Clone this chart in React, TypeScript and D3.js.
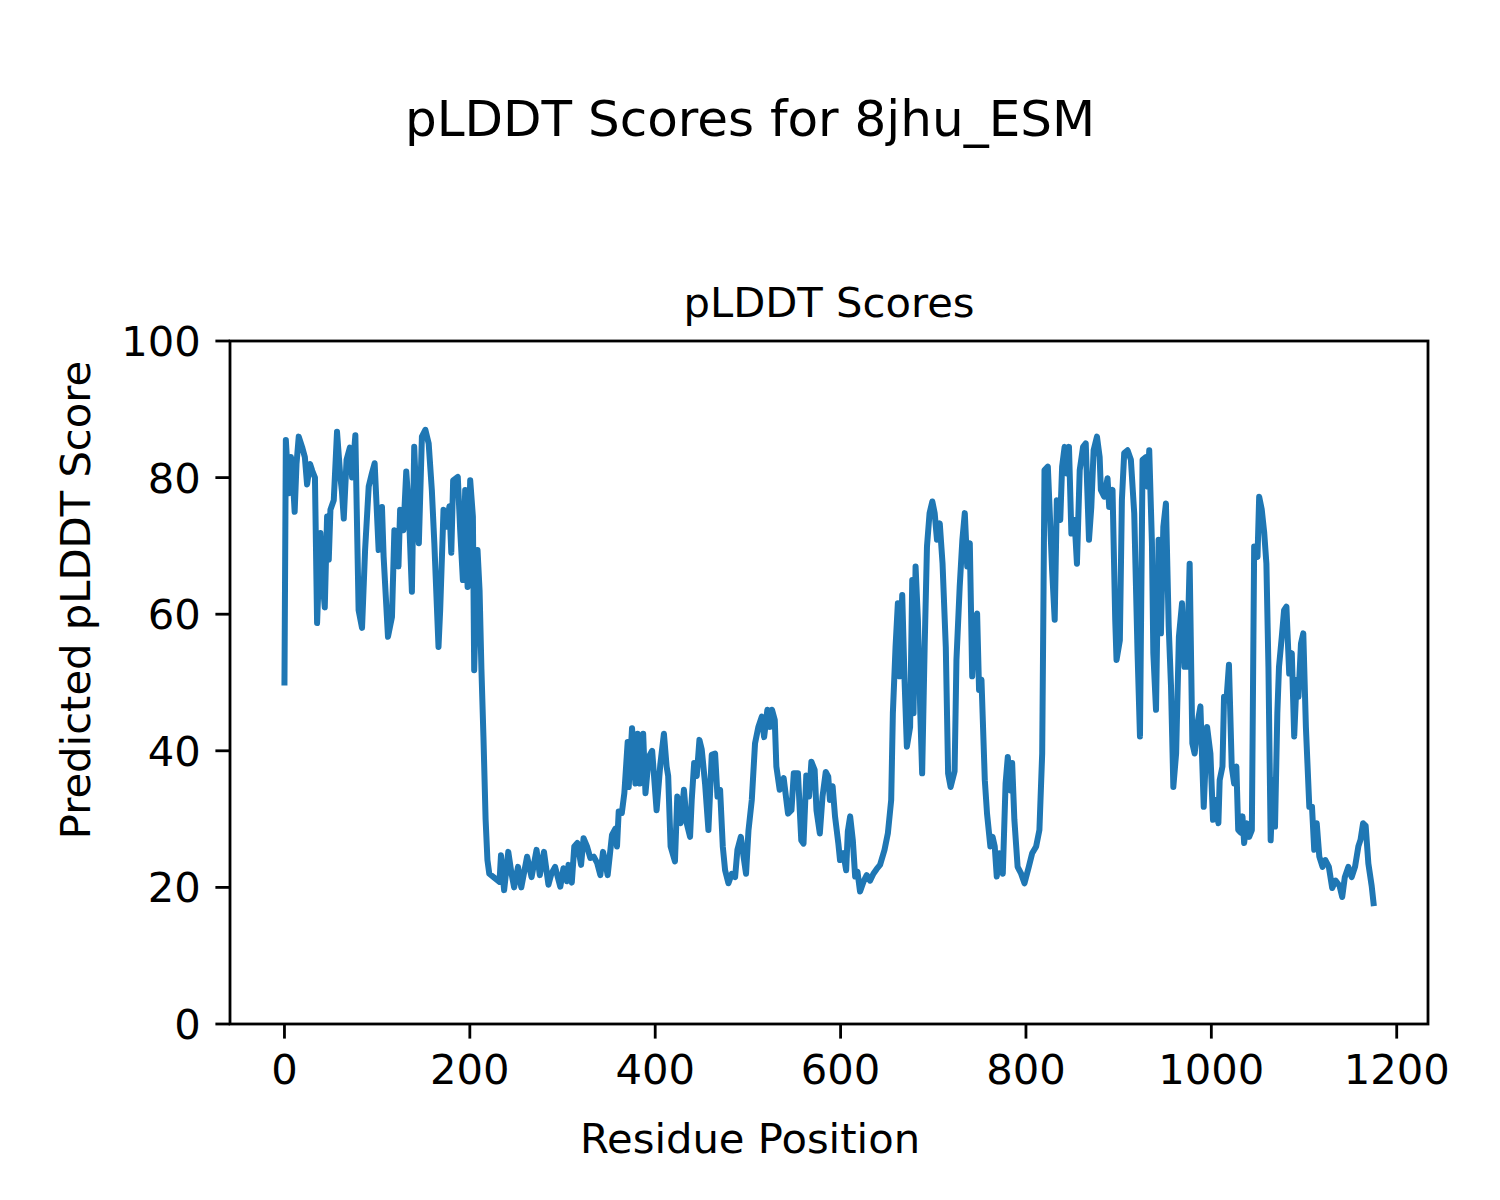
import React from "react";
import * as d3 from "d3";

// Residue positions (x) and predicted pLDDT scores (y)
const residues: number[] = [
  0, 1.5, 4.7, 7, 9, 11, 13, 15.4, 19, 22, 24.4, 27.6, 30, 32.9, 35.2, 38.8, 41, 43.5, 46, 47.8,
  49.6, 53.2, 56.7, 60.3, 62, 64, 67, 70.6, 73, 76.5, 80, 83.7, 87, 90.9, 94.5, 97.3, 101.6, 105.2, 107, 111.7,
  116, 118.6, 123, 124.8, 128.4, 131.4, 134, 137.5, 140, 143, 145, 148.3, 152, 155.6, 159, 161.7, 166.2, 168, 171.6, 174.5,
  178, 180, 182, 187, 189.6, 192.5, 195, 197.6, 200.4, 203.3, 204.7, 208.3, 210.5, 212.5, 214.7, 217, 219, 221, 225.6, 232,
  233.6, 237, 241.5, 245, 247.8, 252, 255.5, 261.8, 266.6, 272, 275.5, 280, 284.8, 288, 292, 297.6, 301, 304.7, 306.5, 310,
  312.7, 316, 320, 322.7, 326.4, 330, 333.7, 337.3, 340.8, 343.7, 346.2, 348.7, 353.4, 357, 358.8, 360.6, 364, 366.7, 370.3, 371.4,
  375, 378.6, 381, 383.5, 387, 389.5, 393, 396.7, 401.5, 405.5, 409.4, 412.3, 414, 416.6, 421.3, 423.8, 427.4, 431, 434, 437.6,
  439.4, 442, 444.8, 447.7, 450.2, 453.8, 457.4, 461, 464.6, 467.2, 470, 472.9, 475.4, 479, 482.6, 486.2, 488.7, 492.4, 495.3, 498,
  500.6, 504.2, 507.7, 511.3, 515, 517.5, 521, 524, 526, 529, 530.7, 534.3, 538.6, 543.3, 547, 549.5, 554, 557.6, 560, 563,
  566, 568.5, 572, 574, 577.6, 580.5, 584, 586.7, 588.5, 591.4, 594, 597.6, 599.4, 603, 606, 607.8, 610.3, 613.2, 615.7, 618.2,
  621, 624.6, 628.2, 631.8, 635.4, 639, 642.6, 647.4, 651, 654.6, 656.4, 659.3, 661.8, 663.6, 666.5, 669, 671.5, 675, 677.3, 678.7,
  680.9, 683.4, 686, 688, 690.7, 693.2, 696, 699, 701.5, 704, 707, 710, 713.5, 716, 718.7, 723, 725, 728.5, 731.4, 734,
  736.6, 739.4, 742, 744.8, 747.3, 749.4, 752, 755.6, 758, 761.6, 764, 766.3, 768.5, 771.3, 775, 778, 780.4, 782.9, 785.1, 787.5,
  791, 794.8, 798.4, 803, 806.7, 811, 814.5, 817.5, 819, 820, 823.6, 826, 828.2, 831, 833.3, 837, 839, 841.7, 844, 846.4,
  849, 852.4, 855, 858, 861.6, 864.5, 868, 870.5, 873, 876.6, 879.5, 880.8, 884.4, 888, 889.8, 893.4, 896.3, 897.7, 901.3, 903.5,
  906, 909.6, 913.2, 916.8, 920.4, 923, 925.8, 929.4, 931.2, 933, 935.9, 937.4, 940.3, 943.1, 945.6, 948.2, 951, 954, 956.5, 959,
  962, 965, 968.4, 971, 973.7, 976.6, 979.5, 982, 985.7, 988.2, 991.8, 995.4, 999, 1001.8, 1004.7, 1007.6, 1009, 1012, 1013.7, 1016.3,
  1019, 1022, 1024.6, 1027, 1029, 1031.8, 1033.6, 1035.4, 1038, 1040.8, 1043.7, 1046.2, 1049.8, 1051.6, 1054.4, 1057, 1059.4, 1061.6, 1064, 1066.6,
  1068.7, 1071.2, 1073, 1076, 1078.5, 1081, 1084, 1086.8, 1089.4, 1092, 1094, 1096.7, 1099.2, 1102, 1105.7, 1108.6, 1111, 1113.7, 1116.5, 1120,
  1123, 1126.8, 1130.4, 1134, 1138.4, 1141.2, 1144, 1147.8, 1151.4, 1155, 1158.6, 1161, 1163.7, 1166.5, 1169.4, 1173, 1175
];

const scores: number[] = [
  50, 85.5, 77.7, 83, 80, 75, 82, 86, 84.5, 83, 79, 82, 81, 80, 58.7, 71.9, 65, 61, 74.3, 68,
  75.3, 76.7, 86.7, 80.1, 78, 74, 82.6, 84.4, 80, 86.2, 60.6, 58, 69.4, 78.7, 80.7, 82.1, 69.4, 75.7, 68.4, 56.7,
  59.6, 72.3, 67, 75.3, 72.3, 80.9, 75.8, 63.3, 84.5, 74.3, 70.4, 86, 87, 85, 78.2, 70.4, 55.2, 60.6, 75.3, 72.8,
  75.8, 69, 79.6, 80.1, 72.3, 65, 78.2, 64, 79.6, 74.3, 51.8, 69.4, 63.5, 52, 42, 30, 24, 22, 21.5, 20.8,
  24.7, 19.6, 25.2, 22, 20, 23, 20, 24.5, 21.5, 25.5, 21.8, 25.2, 20.4, 22, 23, 20.1, 22.8, 20.9, 23.3, 20.7,
  26, 26.5, 23.3, 27.2, 26, 24.3, 24.5, 23.6, 21.8, 25.2, 23.6, 21.8, 27.7, 28.6, 26, 31.1, 30.9, 33.8, 41.3, 34.7,
  43.3, 35.2, 42.5, 35.2, 42.5, 33.8, 39.1, 40, 31.3, 38, 42.5, 37.7, 36.3, 26, 23.8, 33.3, 29.4, 34.3, 29.4, 27.4,
  32.8, 38.2, 36.3, 41.6, 40.2, 35.2, 28.4, 39.4, 39.6, 33.3, 34.3, 26, 22.5, 20.6, 22, 21.5, 25.5, 27.4, 24.5, 22,
  28.3, 32.8, 41.1, 43.5, 45, 42, 46, 43.5, 46, 44.5, 37.7, 34.3, 36, 30.8, 31.3, 36.7, 36.7, 26.9, 26.4, 36.4,
  33.3, 38.4, 37.2, 31.3, 27.9, 33.3, 36.9, 36.2, 32.8, 34.8, 30.4, 26.4, 24, 25, 22.5, 28.2, 30.4, 26.9, 21.6, 22.3,
  19.4, 20.8, 21.8, 21, 22, 22.7, 23.3, 25.5, 27.9, 32.8, 45.5, 55.2, 61.6, 50.9, 62.8, 50.4, 40.6, 43.5, 65, 45.5,
  67, 59.2, 45.5, 36.7, 55.2, 69.9, 74.8, 76.5, 74.8, 70.9, 73.3, 67.4, 55.2, 36.7, 34.7, 37, 53.3, 64, 70.9, 74.8,
  67, 70.4, 50.9, 59.2, 60.1, 48.9, 50.4, 35.7, 30.8, 26, 27.4, 26, 21.6, 25, 22, 35.2, 39.1, 34.2, 38.2, 29.9,
  23, 22, 20.6, 23, 25, 26, 28.4, 39.6, 64, 81.1, 81.6, 73.8, 66.5, 59.2, 76.7, 73.8, 81.6, 84.5, 80.6, 84.5,
  71.8, 73.8, 67.4, 81.1, 84.5, 85, 70.9, 75.7, 84, 86, 83, 78.2, 77.2, 79.9, 75.7, 78.2, 59.2, 53.3, 56.2, 76.7,
  83.6, 84, 82.6, 74.8, 54.3, 42.1, 82.6, 83, 78.7, 84, 70.4, 54.3, 46, 70.9, 57.2, 72.8, 76.2, 58.2, 49.4, 34.7,
  39.6, 56.7, 61.6, 52.3, 52.3, 67.4, 41.1, 39.6, 44.5, 46.5, 31.8, 43.5, 39.6, 29.9, 32.8, 29.4, 35.7, 37.7, 47.9, 47.4,
  52.6, 37.7, 35.2, 37.7, 28.4, 28, 30.4, 26.5, 29.4, 27.4, 28.4, 69.9, 68.4, 77.2, 75.3, 72, 67.4, 52.3, 26.9, 35.7,
  28.9, 45.5, 52.3, 56.7, 60.6, 61.1, 51.3, 54.3, 42.1, 50.4, 47.9, 55.7, 57.2, 43.5, 31.8, 31.8, 25.5, 29.4, 24.5, 23,
  24, 23, 19.9, 21, 20.2, 18.6, 21.5, 23, 21.5, 23, 26, 27, 29.4, 29, 23.5, 20.2, 17.7
];

const xTicks: number[] = [0, 200, 400, 600, 800, 1000, 1200];
const yTicks: number[] = [0, 20, 40, 60, 80, 100];

const suptitle = "pLDDT Scores for 8jhu_ESM";
const axTitle = "pLDDT Scores";
const xLabel = "Residue Position";
const yLabel = "Predicted pLDDT Score";

export default function App() {
  const W = 1500, H = 1200;
  const left = 230, right = 1428, top = 341, bottom = 1024;
  const xMax = d3.max(residues) as number;
  const pad = xMax * 0.05;
  const x = d3.scaleLinear().domain([-pad, xMax + pad]).range([left, right]);
  const y = d3.scaleLinear().domain([0, 100]).range([bottom, top]);
  const data = residues.map((r, i) => [r, scores[i]] as [number, number]);
  const line = d3.line<[number, number]>().x(d => x(d[0])).y(d => y(d[1]));
  const font = "'DejaVu Sans', sans-serif";
  const fs = 41.7;
  const tickLen = 14.6;
  const tickPad = 14.6;
  return (
    <svg width={W} height={H} style={{ position: "absolute", left: 0, top: 0, background: "#fff" }} fontFamily={font}>
      <rect x={0} y={0} width={W} height={H} fill="#fff" />
      <text x={750} y={136} textAnchor="middle" fontSize={50} fill="#000">{suptitle}</text>
      <text x={(left + right) / 2} y={317} textAnchor="middle" fontSize={fs} fill="#000">{axTitle}</text>
      <path d={line(data) || ""} fill="none" stroke="#1f77b4" strokeWidth={6} strokeLinejoin="round" strokeLinecap="square" />
      <rect x={left} y={top} width={right - left} height={bottom - top} fill="none" stroke="#000" strokeWidth={2.8} />
      {xTicks.map(t => (
        <g key={"x" + t}>
          <line x1={x(t)} x2={x(t)} y1={bottom} y2={bottom + tickLen} stroke="#000" strokeWidth={2.8} />
          <text x={x(t)} y={1084} textAnchor="middle" fontSize={fs} fill="#000">{t}</text>
        </g>
      ))}
      {yTicks.map(t => (
        <g key={"y" + t}>
          <line x1={left - tickLen} x2={left} y1={y(t)} y2={y(t)} stroke="#000" strokeWidth={2.8} />
          <text x={left - tickLen - tickPad} y={y(t) + 15} textAnchor="end" fontSize={fs} fill="#000">{t}</text>
        </g>
      ))}
      <text x={750} y={1153} textAnchor="middle" fontSize={fs} fill="#000">{xLabel}</text>
      <text transform={`translate(90,600) rotate(-90)`} textAnchor="middle" fontSize={fs} fill="#000">{yLabel}</text>
    </svg>
  );
}
